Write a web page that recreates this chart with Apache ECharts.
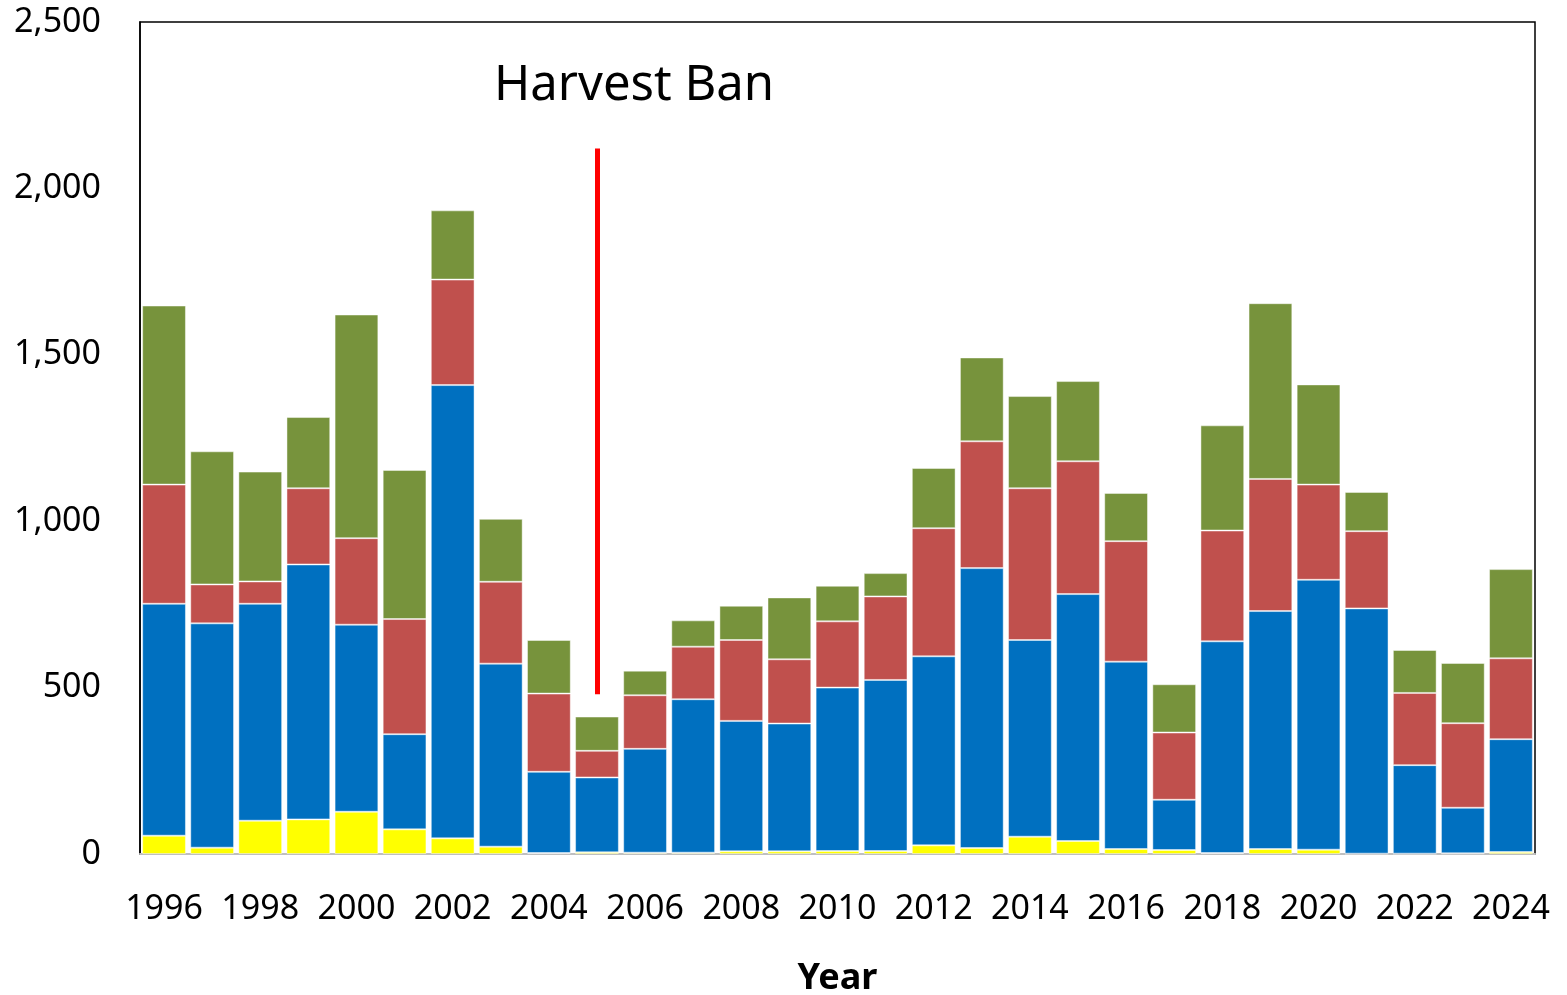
<!DOCTYPE html>
<html>
<head>
<meta charset="utf-8">
<script src="https://cdn.jsdelivr.net/npm/echarts@6/dist/echarts.min.js"></script>
<style>html,body{margin:0;padding:0;background:#fff;}#chart{width:1567px;height:995px;}</style>
</head>
<body>
<div id="chart"></div>
<script>
const years = ['1996','1997','1998','1999','2000','2001','2002','2003','2004','2005','2006','2007','2008','2009','2010','2011','2012','2013','2014','2015','2016','2017','2018','2019','2020','2021','2022','2023','2024'];
const yellowVals = [55,19,100,104,127,74,47,22,3,5,4,4,8,8,9,9,26,18,52,39,15,12,3,15,13,1,1,2,6];
const blueVals = [697,674,652,766,562,286,1362,550,244,225,312,461,392,384,491,514,568,841,591,742,563,151,636,715,811,737,266,137,339];
const redVals = [358,117,67,229,260,346,317,246,235,80,161,158,243,193,199,251,385,381,456,399,362,202,333,397,286,232,217,254,243];
const greenVals = [538,400,330,214,672,448,208,189,161,103,74,79,103,186,107,70,181,252,277,241,145,145,316,528,301,118,129,181,268];
const banYear = '2005';
const banLineRange = [480, 2120];
const banLabel = 'Harvest Ban';
const yTicks = { min: 0, max: 2500, interval: 500 };

const FONT = 'Noto Sans';
const chart = echarts.init(document.getElementById('chart'), null, {renderer: 'canvas'});

function barSeries(name, data, color, extra) {
  return Object.assign({
    name: name, type: 'bar', stack: 'total', data: data,
    barCategoryGap: '9%',
    itemStyle: { color: color, borderColor: 'rgba(255,255,255,0.45)', borderWidth: 1 },
    emphasis: { disabled: true }
  }, extra || {});
}

chart.setOption({
  animation: false,
  backgroundColor: '#ffffff',
  grid: { left: 140, right: 32, top: 22, bottom: 141, containLabel: false, outerBoundsMode: 'none',
    show: true, borderColor: '#000', borderWidth: 1.5, backgroundColor: 'transparent' },
  xAxis: {
    type: 'category', data: years,
    name: 'Year', nameLocation: 'middle', nameGap: 107,
    nameTextStyle: { fontFamily: FONT, fontSize: 36, fontWeight: 'bold', color: '#000' },
    axisLine: { show: true, lineStyle: { color: '#bfbfbf', width: 2 } },
    axisTick: { show: false },
    axisLabel: { interval: 1, margin: 38, fontFamily: FONT, fontSize: 34, color: '#000' }
  },
  yAxis: {
    type: 'value', min: yTicks.min, max: yTicks.max, interval: yTicks.interval,
    splitLine: { show: false },
    axisLine: { show: true, lineStyle: { color: '#000', width: 1.5 } },
    axisTick: { show: false },
    axisLabel: { margin: 39, fontFamily: FONT, fontSize: 34, color: '#000',
      formatter: v => v.toLocaleString('en-US') }
  },
  series: [
    barSeries('Yellow', yellowVals, '#FFFF00'),
    barSeries('Blue', blueVals, '#0070C0'),
    barSeries('Red', redVals, '#C0504D'),
    barSeries('Green', greenVals, '#77933C', {
      markLine: {
        silent: true, symbol: ['none', 'none'],
        lineStyle: { color: '#FF0000', width: 5, type: 'solid' },
        label: { show: false },
        data: [[ { coord: [banYear, banLineRange[1]] }, { coord: [banYear, banLineRange[0]] } ]]
      }
    })
  ],
  graphic: [{
    type: 'text', left: 494, top: 62,
    style: { text: banLabel, fontFamily: FONT, fontSize: 49, fill: '#000' }
  }]
});
</script>
</body>
</html>
